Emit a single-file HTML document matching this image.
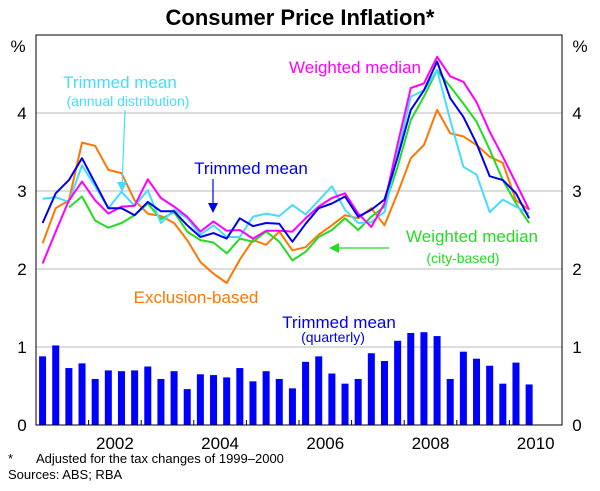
<!DOCTYPE html>
<html><head><meta charset="utf-8"><style>
body{margin:0;background:#fff;}
svg{display:block;font-family:"Liberation Sans",Arial,sans-serif;}
</style></head><body>
<svg id="chart" width="600" height="491">
<text x="300" y="25" text-anchor="middle" font-size="22" font-weight="bold">Consumer Price Inflation*</text>
<g id="grid"></g><g id="bars"></g><g id="lines"></g><g id="axes"></g>
<text x="18" y="52" text-anchor="middle" font-size="17">%</text>
<text x="580" y="52" text-anchor="middle" font-size="17">%</text>
<text x="355" y="73" text-anchor="middle" font-size="17" fill="#ff00ff">Weighted median</text>
<text x="120" y="88" text-anchor="middle" font-size="17" fill="#44ddff">Trimmed mean</text>
<text x="128" y="106" text-anchor="middle" font-size="14" fill="#44ddff">(annual distribution)</text>
<line x1="125" y1="110" x2="122" y2="186" stroke="#44ddff" stroke-width="1.2"/>
<polygon points="117,182 127,182 122,192" fill="#44ddff"/>
<text x="251" y="174" text-anchor="middle" font-size="17" fill="#0000ee">Trimmed mean</text>
<line x1="213" y1="179" x2="213" y2="206" stroke="#0000ee" stroke-width="1.2"/>
<polygon points="208,203 218,203 213,213" fill="#0000ee"/>
<text x="472" y="242" text-anchor="middle" font-size="17" fill="#22dd22">Weighted median</text>
<text x="463" y="263" text-anchor="middle" font-size="14" fill="#22dd22">(city-based)</text>
<line x1="389" y1="248" x2="336" y2="248" stroke="#22dd22" stroke-width="1.2"/>
<polygon points="339,243 339,253 329,248" fill="#22dd22"/>
<text x="196" y="303" text-anchor="middle" font-size="17" fill="#ff7700">Exclusion-based</text>
<text x="339" y="328" text-anchor="middle" font-size="17" fill="#0000ee">Trimmed mean</text>
<text x="333" y="342" text-anchor="middle" font-size="14" fill="#0000ee">(quarterly)</text>
<text x="8" y="463" font-size="13">*</text>
<text x="36" y="463" font-size="13">Adjusted for the tax changes of 1999–2000</text>
<text x="8" y="479" font-size="13">Sources: ABS; RBA</text>
</svg>
<script>
const years=[2002,2004,2006,2008,2010];
const yTicks=[0,1,2,3,4];
const quarterly=[0.88,1.02,0.73,0.79,0.59,0.70,0.69,0.70,0.75,0.59,0.69,0.46,0.65,0.64,0.61,0.73,0.56,0.69,0.59,0.47,0.81,0.88,0.66,0.53,0.59,0.92,0.82,1.08,1.18,1.19,1.14,0.59,0.94,0.85,0.76,0.53,0.80,0.52];
const trimmedMean=[2.59,2.97,3.14,3.42,3.10,2.78,2.78,2.69,2.86,2.74,2.74,2.56,2.41,2.46,2.39,2.65,2.55,2.59,2.58,2.35,2.58,2.78,2.84,2.93,2.67,2.76,2.89,3.43,4.04,4.29,4.66,4.19,3.95,3.61,3.19,3.14,2.97,2.65];
const trimmedAnnual=[2.90,2.92,2.86,3.33,3.06,2.78,2.99,2.81,3.01,2.59,2.76,2.65,2.44,2.56,2.41,2.41,2.67,2.71,2.68,2.82,2.70,2.88,3.06,2.76,2.59,2.60,2.73,3.48,4.21,4.29,4.55,3.91,3.31,3.21,2.73,2.89,2.80,2.71];
const weightedMedian=[2.07,2.48,2.88,3.12,2.88,2.71,2.80,2.81,3.15,2.91,2.80,2.67,2.48,2.61,2.49,2.50,2.39,2.49,2.49,2.48,2.65,2.80,2.91,2.97,2.71,2.54,2.84,3.60,4.32,4.38,4.72,4.47,4.40,4.14,3.76,3.44,3.10,2.76];
const cityMedian=[null,null,2.79,2.93,2.62,2.53,2.59,2.69,2.84,2.64,2.73,2.48,2.37,2.34,2.20,2.39,2.35,2.48,2.35,2.11,2.22,2.41,2.50,2.65,2.50,2.67,2.80,3.31,3.91,4.21,4.55,4.34,4.12,3.89,3.53,3.14,2.84,2.59];
const exclusion=[2.33,2.78,2.88,3.62,3.58,3.27,3.23,2.88,2.71,2.68,2.59,2.37,2.09,1.94,1.82,2.12,2.37,2.31,2.48,2.24,2.28,2.44,2.56,2.69,2.65,2.78,2.56,2.97,3.42,3.59,4.04,3.74,3.70,3.59,3.44,3.36,2.88,2.76];
const L=36,R=562,T=35,B=425;
const x=t=>L+(t-2001)*(R-L)/10;
const y=v=>B-v*(B-T)/5;
const qt=i=>2001.125+i*0.25;
const NS="http://www.w3.org/2000/svg";
function mk(p,tag,a){const e=document.createElementNS(NS,tag);for(const k in a)e.setAttribute(k,a[k]);p.appendChild(e);return e;}
const grid=document.getElementById('grid'),bars=document.getElementById('bars'),lines=document.getElementById('lines'),axes=document.getElementById('axes');
yTicks.forEach(v=>{
 if(v>0){const g=mk(grid,'line',{x1:L,x2:R,y1:y(v),y2:y(v),stroke:'#bbb','stroke-width':1});
 
 }
 const a=mk(axes,'text',{x:22,y:y(v)+6,'text-anchor':'middle','font-size':17});a.textContent=v;
 
 
 const b=mk(axes,'text',{x:577,y:y(v)+6,'text-anchor':'middle','font-size':17});b.textContent=v;
 
 
});
quarterly.forEach((v,i)=>{
 const r=mk(bars,'rect',{x:x(qt(i))-3.5,y:y(v),width:7,height:y(0)-y(v),fill:'#0000ff'});
 
 
});
function line(arr,color,name){
 let d='';arr.forEach((v,i)=>{if(v==null)return;d+=(d?'L':'M')+x(qt(i)).toFixed(1)+','+y(v).toFixed(1);});
 const p=mk(lines,'path',{d:d,fill:'none',stroke:color,'stroke-width':2,'stroke-linejoin':'round'});
 
 
}
line(exclusion,'#ff7700','line-exclusion-based');
line(cityMedian,'#22dd22','line-weighted-median-city');
line(trimmedAnnual,'#44ddff','line-trimmed-mean-annual');
line(weightedMedian,'#ff00ff','line-weighted-median');
line(trimmedMean,'#0000ee','line-trimmed-mean');
const box=mk(axes,'rect',{x:L,y:T,width:R-L,height:B-T,fill:'none',stroke:'#000','stroke-width':1});


for(let yr=2002;yr<=2010;yr++){
 const t=mk(axes,'line',{x1:x(yr),x2:x(yr),y1:B,y2:B-5,stroke:'#000'});
 
 
}
years.forEach(yr=>{
 const t=mk(axes,'text',{x:x(yr+0.5),y:449,'text-anchor':'middle','font-size':17});t.textContent=yr;
 
 
});
</script>
</body></html>
